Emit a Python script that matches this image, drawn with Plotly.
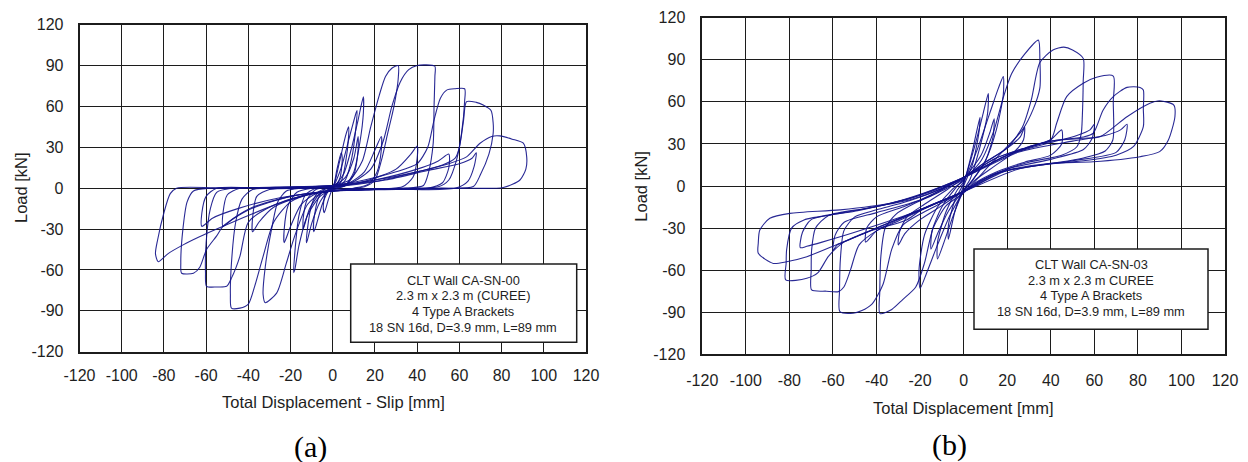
import plotly.graph_objects as go

W, H = 1248, 462

# ---------------- tick labels ----------------
X_TICKS = [-120, -100, -80, -60, -40, -20, 0, 20, 40, 60, 80, 100, 120]
X_TICK_TEXT = ["-120", "-100", "-80", "-60", "-40", "-20", "0", "20", "40", "60", "80", "100", "120"]
Y_TICKS = [-120, -90, -60, -30, 0, 30, 60, 90, 120]
Y_TICK_TEXT = ["-120", "-90", "-60", "-30", "0", "30", "60", "90", "120"]

# ---------------- panel (a) loops: displacement [mm], load [kN] ----------------
A1_X = [0, 2, 4, 4.5, 3.5, 1.5, 0, -2, -4, -4.5, -3.5, -1.5, 0]
A1_Y = [0, 14, 26, 22, 8, 2, 0, -8, -18, -14, -4, 0, 0]
A2_X = [0, 3, 6, 7.5, 7.5, 6, 4, 1, -2, -5, -8, -9, -9, -7, -4, 0]
A2_Y = [1, 18, 38, 45, 38, 18, 5, 1, -2, -12, -28, -32, -24, -8, -1, 1]
A3_X = [0, 4, 8, 11, 11.5, 11, 9, 6, 2, -2, -6, -10, -12, -12.5, -12, -10, -7, -3, 0]
A3_Y = [1, 15, 38, 55, 57, 45, 22, 6, 0, -2, -10, -26, -38, -40, -30, -12, -3, 0, 1]
A4_X = [0, 5, 9, 12, 14.5, 14.5, 13, 10, 6, 0, -6, -12, -16, -18, -18.5, -18, -16, -13, -8, 0]
A4_Y = [1, 10, 30, 50, 67, 55, 35, 12, 2, -1, -6, -20, -42, -60, -62, -48, -20, -5, 0, 1]
A4B_X = [0, 6, 10, 12, 12, 10, 6, 0, -6, -11, -14, -14, -12, -8, 0]
A4B_Y = [2, 8, 22, 38, 28, 10, 2, 0, -4, -15, -30, -22, -8, -1, 2]
A5_X = [0, 8, 14, 18, 22, 25, 28, 31, 31, 29, 26, 23, 20, 15, 5, 0, -6, -12, -18, -22, -26.6, -32, -33, -32, -29, -26, -22, -15, -5, 0]
A5_Y = [2, 6, 20, 45, 68, 82, 88, 90, 80, 60, 40, 20, 6, 1, -1, -2, -4, -12, -35, -55, -77, -84, -78, -58, -30, -10, -2, 0, 1, 2]
A5B_X = [0, 8, 15, 20, 23, 23, 21, 17, 10, 0, -8, -15, -20, -23, -23, -21, -17, -10, 0]
A5B_Y = [1, 4, 12, 28, 38, 28, 12, 3, 0, -2, -4, -12, -28, -40, -30, -12, -3, 0, 1]
A6_X = [0, 10, 18, 24, 28, 32, 36, 40, 44, 48.4, 48.4, 48, 47.6, 45.3, 43, 35, 20, 0, -10, -20, -28, -33, -37, -40, -44, -48, -48.5, -48, -46, -43, -38, -25, -10, 0]
A6_Y = [2, 5, 14, 35, 60, 78, 87, 90, 90.5, 89.5, 82, 60, 33, 11, 2, 0, -1, -2, -4, -10, -25, -50, -72, -85, -88, -88, -78, -55, -25, -8, -1, 0, 1, 2]
A6B_X = [0, 15, 30, 37, 40, 40, 38, 33, 15, 0, -15, -28, -35, -38, -38, -36, -30, -15, 0]
A6B_Y = [1, 5, 14, 25, 31, 22, 8, 1, -1, -2, -6, -14, -25, -32, -22, -6, -1, 0, 1]
A7_X = [0, 15, 30, 40, 45, 48, 51, 54, 58, 62.5, 62.5, 61, 58.7, 55, 50, 30, 0, -15, -30, -40, -44, -48, -50.3, -55, -59.8, -60.3, -60, -58, -55, -48, -25, 0]
A7_Y = [2, 6, 12, 18, 30, 50, 66, 72, 73, 73, 64, 40, 21, 6, 1, 0, -2, -6, -14, -25, -50, -66, -72, -72.5, -72, -62, -40, -15, -3, 0, 0.5, 2]
A7B_X = [0, 20, 40, 50, 55, 55, 52, 45, 20, 0, -20, -38, -47, -52, -52, -50, -44, -20, 0]
A7B_Y = [1, 6, 14, 20, 25, 15, 4, 0, -1, -2, -6, -14, -22, -28, -18, -5, 0, 0, 1]
A8_X = [0, 20, 40, 52, 58, 60, 62, 63.4, 68, 71.3, 75, 76, 76, 74, 70, 66.6, 50, 20, 0, -20, -40, -52, -55, -59.8, -63, -66, -71.6, -72, -71, -69, -66, -58, -30, 0]
A8_Y = [2, 6, 12, 17, 22, 30, 50, 63.5, 63, 61, 57, 48, 40, 25, 10, 1.2, 0, -1, -2, -6, -16, -28, -35, -45, -58, -62.4, -62.4, -55, -30, -10, -2, 0, 0.5, 2]
A8B_X = [0, 25, 45, 60, 66, 68, 67, 64, 58, 30, 0, -25, -45, -57, -62, -62, -60, -55, -30, 0]
A8B_Y = [1, 6, 13, 18, 22, 26, 16, 5, 0, -1, -2, -7, -15, -22, -28, -18, -6, 0, 0, 1]
A9_X = [0, 20, 40, 55, 63.4, 69.8, 75.3, 79.2, 85, 90.3, 91.9, 91.5, 88.7, 80.8, 60, 30, 0, -20, -40, -55, -62.9, -70.9, -78, -82.7, -84, -83, -80, -77, -74, -50, -20, 0]
A9_Y = [2, 5, 12, 18, 23, 33, 38, 38.4, 36, 33, 23, 14, 6, 0.5, 0, -0.5, -1, -8, -20, -30, -35.5, -41.6, -48, -54, -48, -38, -18, -4, 0, 0, 1, 2]

# ---------------- panel (b) loops ----------------
B1_X = [0, 4, 7.5, 7, 4, 0, -4, -7, -7, -4, 0]
B1_Y = [2, 25, 49, 38, 15, 0, -18, -38, -28, -10, 2]
B2_X = [0, 5, 9, 11.3, 11, 7, 3, 0, -5, -9, -12, -12, -8, -3, 0]
B2_Y = [3, 28, 52, 66, 52, 25, 5, -3, -22, -40, -52, -40, -18, -3, 3]
B3_X = [0, 6, 12, 16, 18.2, 18.2, 15, 10, 4, 0, -6, -12, -17, -20, -20.5, -18, -12, -5, 0]
B3_Y = [4, 25, 52, 70, 78, 65, 40, 18, 4, -4, -20, -42, -62, -73, -60, -35, -15, -2, 4]
B3B_X = [0, 8, 12, 14, 13.5, 10, 4, 0, -7, -12, -15, -14.5, -10, -4, 0]
B3B_Y = [5, 22, 38, 48, 35, 18, 4, -3, -18, -34, -45, -32, -15, -2, 5]
B4_X = [0, 8, 14, 18, 22, 28, 34.3, 35, 35, 32, 27, 20, 12, 5, 0, -8, -14, -18, -22, -28, -33, -38.4, -38.5, -38, -36, -31, -22, -12, 0]
B4_Y = [5, 18, 40, 62, 80, 94, 104, 90, 70, 55, 40, 28, 15, 3, -5, -14, -30, -55, -72, -81, -88, -91, -75, -50, -30, -20, -12, -5, 5]
B4B_X = [0, 10, 20, 26, 28, 27.5, 23, 14, 5, 0, -10, -20, -27, -30, -29.5, -26, -18, -8, 0]
B4B_Y = [6, 17, 27, 35, 42, 33, 24, 14, 4, -3, -14, -24, -34, -42, -33, -22, -13, -3, 6]
B5_X = [0, 10, 20, 27, 31, 35, 41, 46, 50, 54.9, 54.9, 54.5, 54, 52, 45, 30, 18, 8, 0, -10, -20, -28, -33, -37, -42, -47, -50.7, -56.8, -57, -56.5, -55, -50, -40, -28, -15, 0]
B5_Y = [6, 17, 27, 42, 61, 88, 97, 99, 97, 91, 75, 50, 37.5, 28, 22, 17, 11, 4, -4, -12, -20, -28, -45, -70, -84, -89, -90.7, -89.6, -75, -50, -32, -22, -17, -12, -5, 6]
B5B_X = [0, 15, 30, 40, 45, 45, 40, 28, 15, 5, 0, -15, -30, -40, -45, -44.5, -40, -28, -14, 0]
B5B_Y = [6, 20, 28, 33, 40, 30, 22, 17, 10, 2, -4, -14, -24, -32, -40, -30, -22, -15, -6, 6]
B6_X = [0, 15, 30, 40, 42.7, 47.3, 54.9, 61, 68.7, 68.7, 68.5, 65, 55, 40, 20, 8, 0, -15, -30, -40, -48, -52, -55, -57.5, -63, -69.8, -70, -69.8, -68, -62, -45, -25, -10, 0]
B6_Y = [6, 20, 28, 33, 44.7, 63.7, 73.2, 77.5, 78.4, 60, 32.8, 25, 20, 16, 11, 4, -4, -14, -25, -32, -42, -60, -72, -75.3, -75, -74.1, -60, -45.6, -30, -21, -16, -10, -2, 6]
B6B_X = [0, 20, 40, 52, 58, 60, 59, 55, 40, 20, 0, -20, -40, -52, -58, -60, -59, -55, -40, -20, 0]
B6B_Y = [6, 22, 31, 36, 40, 44, 34, 26, 19, 12, -4, -17, -30, -38, -42, -46, -35, -26, -19, -10, 6]
B7_X = [0, 20, 40, 55, 59.5, 64, 68.7, 75, 81, 82.5, 82.5, 82.5, 77.9, 70, 55, 35, 15, 0, -20, -40, -55, -62, -67, -72, -81.7, -81.5, -81.3, -79, -73.3, -55, -35, -15, 0]
B7_Y = [6, 22, 32, 35, 37.6, 54, 63.7, 70.3, 70.3, 68.4, 55, 42.3, 28, 22, 18, 15, 9, -4, -17, -30, -40, -50, -62, -65.8, -67, -55, -45.6, -30, -24.2, -19, -13, -4, 6]
B7B_X = [0, 25, 50, 65, 72, 75, 74, 70, 50, 25, 0, -25, -50, -65, -72, -75, -74, -70, -50, -25, 0]
B7B_Y = [6, 24, 32, 36, 40, 44, 33, 24, 18, 12, -4, -20, -33, -40, -43, -44, -33, -24, -18, -9, 6]
B8_X = [0, 20, 40, 55, 62.6, 75, 85.5, 90, 96.5, 97, 94, 90, 81, 59.5, 40, 20, 0, -18.5, -26.2, -41.5, -56.7, -72, -81.3, -87.4, -94.3, -94.3, -93.6, -89, -79.8, -56.7, -33.8, -18.5, 0]
B8_Y = [6, 22, 32, 34, 35.1, 49.4, 59, 60.8, 57.7, 49.4, 32.8, 24.5, 20.9, 17.3, 16.2, 11, -4, -16, -24.2, -31.4, -40.8, -50.4, -54, -55.2, -48, -40.8, -31.4, -23, -19.5, -17, -12.3, -5.2, 6]

LOOPS_A = [(A1_X, A1_Y), (A2_X, A2_Y), (A3_X, A3_Y), (A4_X, A4_Y), (A4B_X, A4B_Y),
           (A5_X, A5_Y), (A5B_X, A5B_Y), (A6_X, A6_Y), (A6B_X, A6B_Y), (A7_X, A7_Y),
           (A7B_X, A7B_Y), (A8_X, A8_Y), (A8B_X, A8B_Y), (A9_X, A9_Y)]
LOOPS_B = [(B1_X, B1_Y), (B2_X, B2_Y), (B3_X, B3_Y), (B3B_X, B3B_Y), (B4_X, B4_Y),
           (B4B_X, B4B_Y), (B5_X, B5_Y), (B5B_X, B5B_Y), (B6_X, B6_Y), (B6B_X, B6B_Y),
           (B7_X, B7_Y), (B7B_X, B7B_Y), (B8_X, B8_Y)]

LEGEND_A = ["CLT Wall CA-SN-00", "2.3 m x 2.3 m (CUREE)", "4 Type A Brackets", "18 SN 16d, D=3.9 mm, L=89 mm"]
LEGEND_B = ["CLT Wall CA-SN-03", "2.3 m x 2.3 m CUREE", "4 Type A Brackets", "18 SN 16d, D=3.9 mm, L=89 mm"]

LINE_COLOR = "#13138a"
GRID = "#1c1c1c"
SANS = "Liberation Sans, Arial, sans-serif"
TXT = "#1e1e1e"

fig = go.Figure()
for lx, ly in LOOPS_A:
    fig.add_trace(go.Scatter(x=lx, y=ly, mode="lines", xaxis="x", yaxis="y",
                             line=dict(color=LINE_COLOR, width=1.1, shape="spline", smoothing=0.7),
                             opacity=0.9, showlegend=False, hoverinfo="skip"))
for lx, ly in LOOPS_B:
    fig.add_trace(go.Scatter(x=lx, y=ly, mode="lines", xaxis="x2", yaxis="y2",
                             line=dict(color=LINE_COLOR, width=1.1, shape="spline", smoothing=0.7),
                             opacity=0.9, showlegend=False, hoverinfo="skip"))


def px(v):
    return v / W


def py(v):
    return 1 - v / H


def xax(domain, standoff):
    return dict(domain=domain, range=[-120, 120], tickvals=X_TICKS, ticktext=X_TICK_TEXT,
                showgrid=True, gridcolor=GRID, gridwidth=1.4,
                zeroline=True, zerolinecolor=GRID, zerolinewidth=1.4,
                showline=True, mirror=True, linecolor=GRID, linewidth=1.6,
                ticks="", ticklabelstandoff=standoff, automargin=False,
                tickfont=dict(family=SANS, size=16, color=TXT), fixedrange=True)


def yax(domain, anchor, standoff):
    return dict(domain=domain, range=[-120, 120], tickvals=Y_TICKS, ticktext=Y_TICK_TEXT,
                anchor=anchor,
                showgrid=True, gridcolor=GRID, gridwidth=1.4,
                zeroline=True, zerolinecolor=GRID, zerolinewidth=1.4,
                showline=True, mirror=True, linecolor=GRID, linewidth=1.6,
                ticks="", ticklabelstandoff=standoff, automargin=False,
                tickfont=dict(family=SANS, size=16, color=TXT), fixedrange=True)


xa = xax([px(79.5), px(586)], 8)
xa["anchor"] = "y"
xb = xax([px(702.3), px(1225)], 11)
xb["anchor"] = "y2"
ya = yax([py(351.7), py(24.7)], "x", 11)
yb = yax([py(354.3), py(17.7)], "x2", 12)

shapes = [
    dict(type="rect", xref="paper", yref="paper", x0=px(350.7), x1=px(576.7), y0=py(342.3), y1=py(264),
         fillcolor="white", line=dict(color=GRID, width=1.5), layer="above"),
    dict(type="rect", xref="paper", yref="paper", x0=px(974), x1=px(1208), y0=py(329.3), y1=py(249),
         fillcolor="white", line=dict(color=GRID, width=1.5), layer="above"),
]

ann = []
for i, t in enumerate(LEGEND_A):
    ann.append(dict(text=t, x=px(463.3), y=py(280 + i * 15.8), xref="paper", yref="paper",
                    showarrow=False, xanchor="center", yanchor="middle",
                    font=dict(family=SANS, size=12.8, color=TXT)))
for i, t in enumerate(LEGEND_B):
    ann.append(dict(text=t, x=px(1091), y=py(264.3 + i * 15.8), xref="paper", yref="paper",
                    showarrow=False, xanchor="center", yanchor="middle",
                    font=dict(family=SANS, size=12.8, color=TXT)))

ann += [
    dict(text="Load [kN]", x=px(20.5), y=py(187.5), textangle=-90),
    dict(text="Load [kN]", x=px(640.7), y=py(186), textangle=-90),
    dict(text="Total Displacement - Slip [mm]", x=px(333), y=py(402)),
    dict(text="Total Displacement [mm]", x=px(963), y=py(407.7)),
]
for a in ann[-4:]:
    a.update(xref="paper", yref="paper", showarrow=False, xanchor="center", yanchor="middle",
             font=dict(family=SANS, size=16.5, color=TXT))

ann += [
    dict(text="(a)", x=px(310), y=py(446.7), xref="paper", yref="paper", showarrow=False,
         xanchor="center", yanchor="middle", font=dict(family="Liberation Serif, Times New Roman, serif", size=30, color="black")),
    dict(text="(b)", x=px(949), y=py(445), xref="paper", yref="paper", showarrow=False,
         xanchor="center", yanchor="middle", font=dict(family="Liberation Serif, Times New Roman, serif", size=30, color="black")),
]

fig.update_layout(
    template="none",
    width=W, height=H, margin=dict(l=0, r=0, t=0, b=0, pad=0, autoexpand=False),
    paper_bgcolor="white", plot_bgcolor="white",
    xaxis=xa, yaxis=ya, xaxis2=xb, yaxis2=yb,
    shapes=shapes, annotations=ann, showlegend=False,
)

fig.write_html("out.html")
